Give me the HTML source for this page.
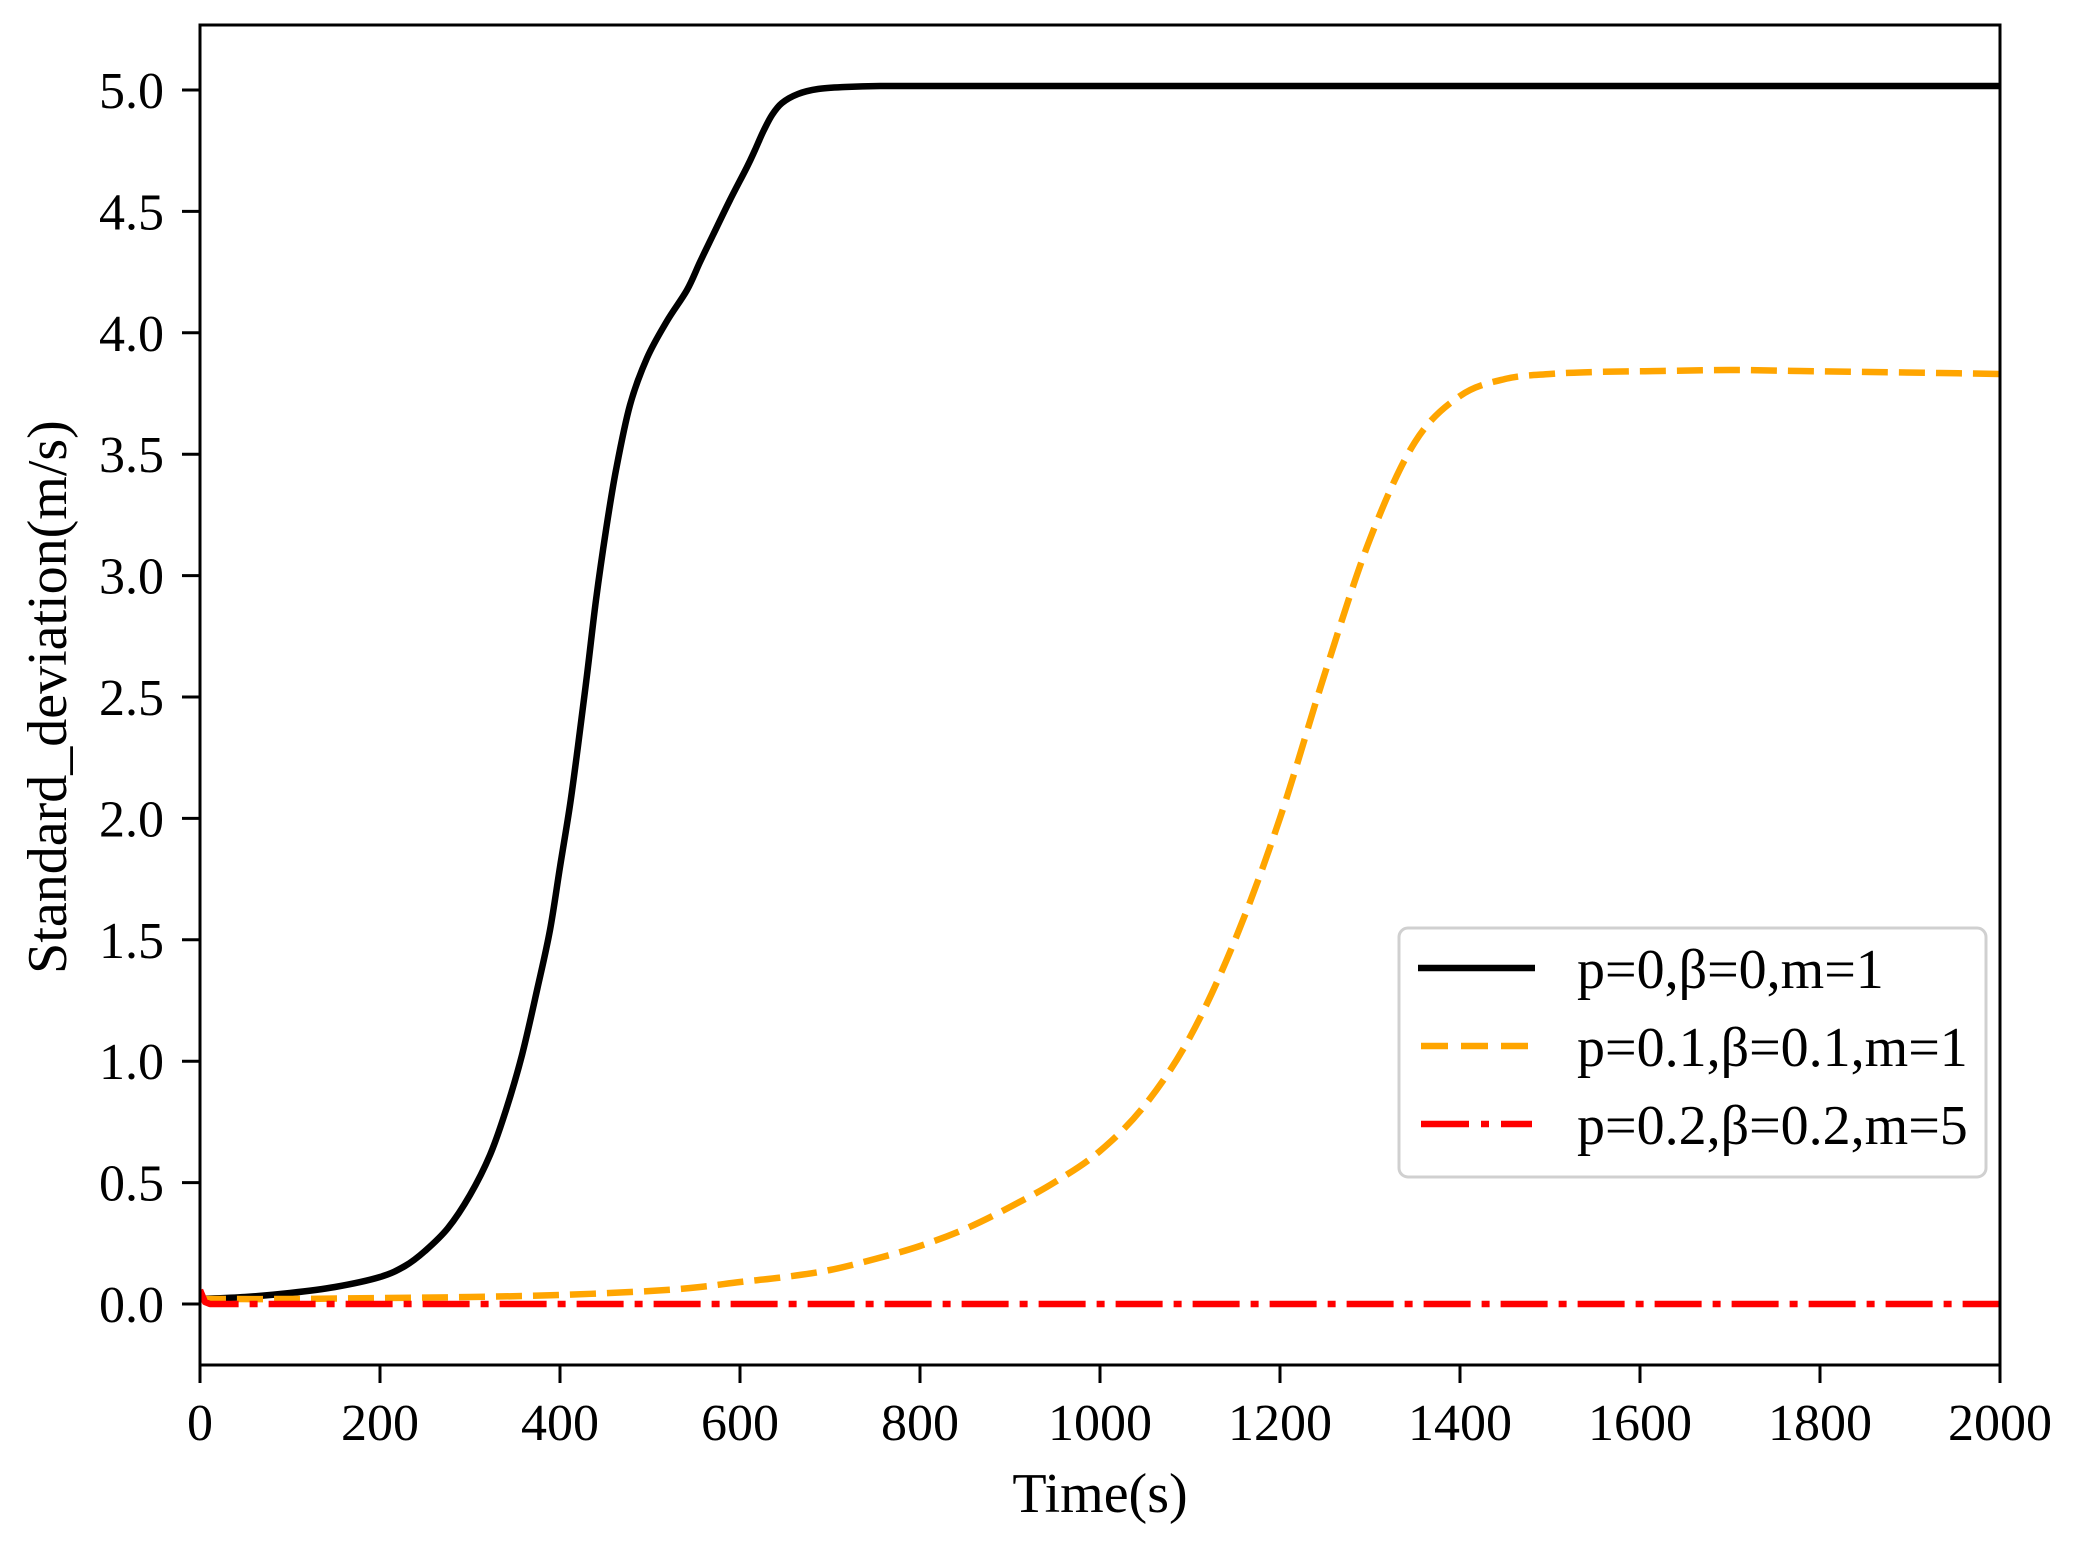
<!DOCTYPE html>
<html><head><meta charset="utf-8"><style>
html,body{margin:0;padding:0;background:#fff;}
svg{display:block;}
text{font-family:"Liberation Serif",serif;fill:#000;}
</style></head><body>
<svg width="2075" height="1553" viewBox="0 0 2075 1553" xmlns="http://www.w3.org/2000/svg">
<rect width="2075" height="1553" fill="#fff"/>
<defs><clipPath id="c"><rect x="200" y="25" width="1800" height="1340"/></clipPath></defs>
<g clip-path="url(#c)" fill="none" stroke-linejoin="round">
<path id="pb" stroke="#000" stroke-width="6.5" d=""/>
<path id="po" stroke="#FFA500" stroke-width="6.5" stroke-dasharray="26,11" d=""/>
<polyline stroke="#FF0000" stroke-width="6.5" stroke-dasharray="47,11,8,11" points="200,1290 205,1302 210,1304 2000,1304"/>
</g>
<rect x="200" y="25" width="1800" height="1340" fill="none" stroke="#000" stroke-width="3"/>
<g stroke="#000" stroke-width="3">
<line x1="182" y1="1304" x2="200" y2="1304"/><line x1="182" y1="1182.6" x2="200" y2="1182.6"/>
<line x1="182" y1="1061.2" x2="200" y2="1061.2"/><line x1="182" y1="939.8" x2="200" y2="939.8"/>
<line x1="182" y1="818.4" x2="200" y2="818.4"/><line x1="182" y1="697" x2="200" y2="697"/>
<line x1="182" y1="575.6" x2="200" y2="575.6"/><line x1="182" y1="454.2" x2="200" y2="454.2"/>
<line x1="182" y1="332.8" x2="200" y2="332.8"/><line x1="182" y1="211.4" x2="200" y2="211.4"/>
<line x1="182" y1="90" x2="200" y2="90"/>
<line x1="200" y1="1365" x2="200" y2="1383"/><line x1="380" y1="1365" x2="380" y2="1383"/>
<line x1="560" y1="1365" x2="560" y2="1383"/><line x1="740" y1="1365" x2="740" y2="1383"/>
<line x1="920" y1="1365" x2="920" y2="1383"/><line x1="1100" y1="1365" x2="1100" y2="1383"/>
<line x1="1280" y1="1365" x2="1280" y2="1383"/><line x1="1460" y1="1365" x2="1460" y2="1383"/>
<line x1="1640" y1="1365" x2="1640" y2="1383"/><line x1="1820" y1="1365" x2="1820" y2="1383"/>
<line x1="2000" y1="1365" x2="2000" y2="1383"/>
</g>
<g font-size="52" text-anchor="end">
<text x="164" y="1322">0.0</text><text x="164" y="1200.6">0.5</text><text x="164" y="1079.2">1.0</text>
<text x="164" y="957.8">1.5</text><text x="164" y="836.4">2.0</text><text x="164" y="715">2.5</text>
<text x="164" y="593.6">3.0</text><text x="164" y="472.2">3.5</text><text x="164" y="350.8">4.0</text>
<text x="164" y="229.4">4.5</text><text x="164" y="108">5.0</text>
</g>
<g font-size="52" text-anchor="middle">
<text x="200" y="1440">0</text><text x="380" y="1440">200</text><text x="560" y="1440">400</text>
<text x="740" y="1440">600</text><text x="920" y="1440">800</text><text x="1100" y="1440">1000</text>
<text x="1280" y="1440">1200</text><text x="1460" y="1440">1400</text><text x="1640" y="1440">1600</text>
<text x="1820" y="1440">1800</text><text x="2000" y="1440">2000</text>
<text x="1100" y="1512" font-size="56">Time(s)</text>
<text transform="translate(66,697) rotate(-90)" font-size="56">Standard_deviation(m/s)</text>
</g>
<rect x="1399" y="928" width="587" height="249" rx="9" fill="#fff" stroke="#d0d0d0" stroke-width="3"/>
<line x1="1418" y1="968" x2="1535" y2="968" stroke="#000" stroke-width="6.5"/>
<line x1="1421" y1="1046" x2="1532" y2="1046" stroke="#FFA500" stroke-width="6.5" stroke-dasharray="27,13"/>
<line x1="1421" y1="1124" x2="1532" y2="1124" stroke="#FF0000" stroke-width="6.5" stroke-dasharray="48,12,8,12"/>
<g font-size="56">
<text x="1577" y="988">p=0,β=0,m=1</text>
<text x="1577" y="1066">p=0.1,β=0.1,m=1</text>
<text x="1577" y="1144">p=0.2,β=0.2,m=5</text>
</g>
</svg>
<script>
function cr(p){var d="M"+p[0][0]+","+p[0][1];for(var i=0;i<p.length-1;i++){var a=p[i-1]||p[i],b=p[i],c=p[i+1],e=p[i+2]||c;
d+=" C"+(b[0]+(c[0]-a[0])/6)+","+(b[1]+(c[1]-a[1])/6)+" "+(c[0]-(e[0]-b[0])/6)+","+(c[1]-(e[1]-b[1])/6)+" "+c[0]+","+c[1];}return d;}
var B=[[200,1299],[245,1297],[290,1293],[335,1287],[380,1277],[405,1266],[425,1251],[448,1228],[470,1195],[490,1155],[506,1110],[522,1055],[537.5,988],[550,930],[560,867],[570,805],[578,746],[587,675],[596,600],[606,530],[616,470],[630,405],[647,358],[667,321],[687,290],[700,262],[713,235],[730,200],[747,167],[755,150],[763,132],[772,115],[782,103],[798,94],[818,89],[845,87],[880,86],[950,86],[1050,86],[1200,86],[1400,86],[1600,86],[1800,86],[2000,86]];
var O=[[200,1299],[290,1299],[380,1298],[470,1297],[560,1295],[650,1291],[700,1287],[740,1282],[785,1277],[830,1270],[875,1259],[920,1246],[965,1229],[1010,1207],[1055,1182],[1100,1151],[1145,1105],[1190,1037],[1235,940],[1280,818],[1325,673],[1370,539],[1415,442],[1460,396],[1505,379],[1550,374],[1595,372],[1660,371],[1730,370],[1800,371],[1870,372],[1940,373],[2000,374]];
document.getElementById("pb").setAttribute("d",cr(B));
document.getElementById("po").setAttribute("d",cr(O));
</script>
</body></html>
